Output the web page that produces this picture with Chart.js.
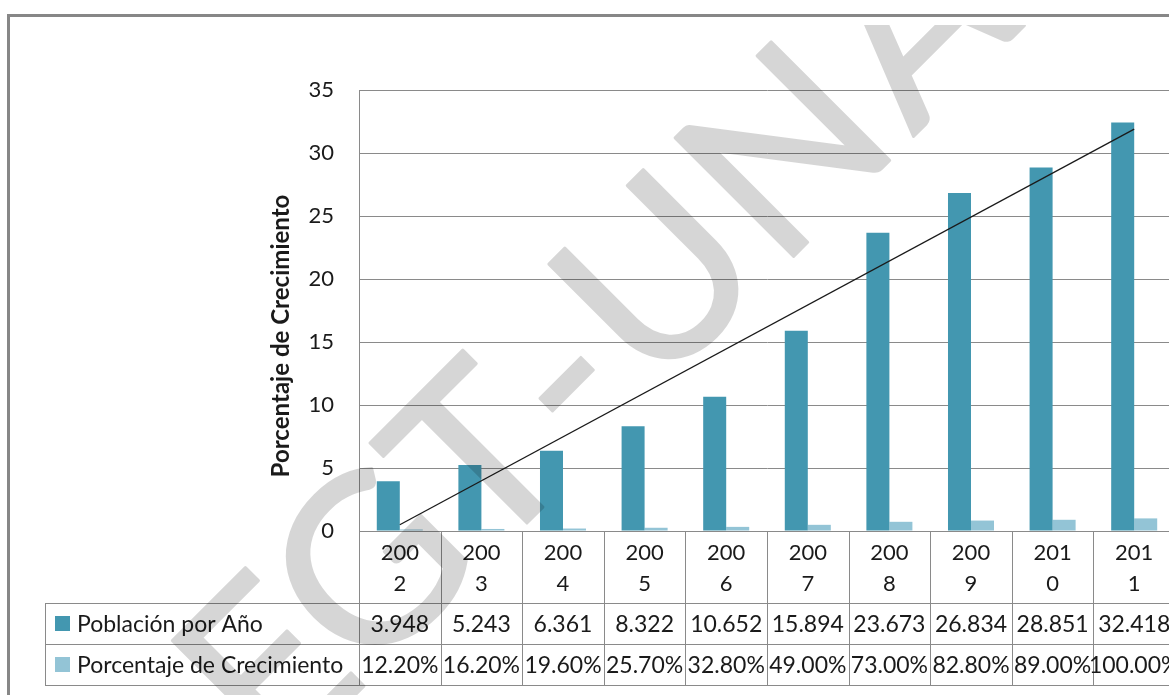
<!DOCTYPE html>
<html><head><meta charset="utf-8">
<script src="https://cdn.jsdelivr.net/npm/chart.js@4.4.1/dist/chart.umd.min.js"></script>
<style>html,body{margin:0;padding:0;overflow:hidden;background:#fff}canvas{display:block}</style>
</head><body>
<canvas id="c" width="1200" height="700"></canvas>
<script>
const categories = ['2002','2003','2004','2005','2006','2007','2008','2009','2010','2011'];
const poblacion = [3.948, 5.243, 6.361, 8.322, 10.652, 15.894, 23.673, 26.834, 28.851, 32.418];
const porcentaje = [0.122, 0.162, 0.196, 0.257, 0.328, 0.49, 0.73, 0.828, 0.89, 1.00];
const tendencia = [0.5, null, null, null, null, null, null, null, null, 31.9];
const yMin = 0, yMax = 35, yStep = 5;
const seriesNames = ['Población por Año', 'Porcentaje de Crecimiento'];
const axisTitle = 'Porcentaje de Crecimiento';
const watermarkText = 'EGT-UNA';

const DARK = '#4397B0', LIGHT = '#93C4D6', GRID = '#8a8a8a', TXT = '#1a1a1a';
const FONT = 'Lato, "Open Sans", sans-serif';

const tablePlugin = {
  id: 'tablePlugin',
  afterDraw(chart) {
    const ctx = chart.ctx, xs = chart.scales.x, ca = chart.chartArea;
    const half = (xs.getPixelForValue(1) - xs.getPixelForValue(0)) / 2;
    const r1 = 603, r2 = 644, r3 = 685, tLeft = 45;
    ctx.save();
    ctx.strokeStyle = GRID; ctx.lineWidth = 1;
    ctx.beginPath();
    for (let i = 0; i <= categories.length; i++) {
      const px = Math.round(xs.getPixelForValue(Math.min(i, categories.length - 1)) + (i < categories.length ? -half : half)) + 0.5;
      ctx.moveTo(px, ca.bottom); ctx.lineTo(px, r3);
    }
    [r1, r2, r3].forEach(r => { ctx.moveTo(tLeft, r + 0.5); ctx.lineTo(ca.right + 50, r + 0.5); });
    ctx.moveTo(tLeft + 0.5, r1); ctx.lineTo(tLeft + 0.5, r3);
    ctx.stroke();

    ctx.font = '23px ' + FONT;
    ctx.textBaseline = 'middle';
    const c1 = (r1 + r2) / 2 + 1, c2 = (r2 + r3) / 2 + 1;
    ctx.fillStyle = DARK; ctx.fillRect(55, 616, 15, 15);
    ctx.fillStyle = LIGHT; ctx.fillRect(55, 657, 15, 15);
    ctx.fillStyle = TXT; ctx.textAlign = 'left';
    ctx.fillText(seriesNames[0], 77, c1);
    ctx.fillText(seriesNames[1], 77, c2);
    ctx.textAlign = 'center';
    categories.forEach((c, i) => {
      const px = xs.getPixelForValue(i);
      ctx.fillText(poblacion[i].toFixed(3), px, c1);
      ctx.fillText((porcentaje[i] * 100).toFixed(2) + '%', px, c2);
    });

    // y axis title
    ctx.save();
    ctx.translate(281, 336);
    ctx.rotate(-Math.PI / 2);
    ctx.font = 'bold 20px ' + FONT;
    const w = ctx.measureText(axisTitle).width;
    const fs = 20 * 283 / w;
    ctx.font = 'bold ' + fs.toFixed(2) + 'px ' + FONT;
    ctx.textAlign = 'center'; ctx.textBaseline = 'middle';
    ctx.fillStyle = TXT;
    ctx.fillText(axisTitle, 0, 0);
    ctx.restore();

    // outer border
    ctx.strokeStyle = '#878787'; ctx.lineWidth = 3;
    ctx.strokeRect(8.5, 15.5, 1400, 1000);

    // watermark (drawn opaque offscreen, then composited translucent)
    const off = document.createElement('canvas');
    off.width = chart.width; off.height = chart.height;
    const o = off.getContext('2d');
    o.fillStyle = '#000'; o.strokeStyle = '#000'; o.lineWidth = 3; o.lineJoin = 'round';
    o.font = '234px ' + FONT;
    o.textAlign = 'center'; o.textBaseline = 'alphabetic';
    const offs = [-285, -139, 14, 129, 268, 448, 628];
    const base = 1050;
    watermarkText.split('').forEach((ch, i) => {
      const s = offs[i] * Math.SQRT2;
      const px = (base + s) / 2, py = (base - s) / 2;
      o.save(); o.translate(px, py); o.rotate(-Math.PI / 4);
      o.fillText(ch, 0, 0); o.strokeText(ch, 0, 0); o.restore();
    });
    ctx.save();
    ctx.beginPath(); ctx.rect(10, 25, 1400, 1000); ctx.clip();
    ctx.globalAlpha = 0.16;
    ctx.drawImage(off, 0, 0);
    ctx.restore();
    ctx.restore();
  }
};

new Chart(document.getElementById('c'), {
  data: {
    labels: categories,
    datasets: [
      { type: 'line', label: 'Tendencia', data: tendencia, borderColor: '#1a1a1a', borderWidth: 1.3,
        pointRadius: 0, spanGaps: true, fill: false, order: 0 },
      { type: 'bar', label: seriesNames[0], data: poblacion, backgroundColor: DARK,
        categoryPercentage: 0.564, barPercentage: 1, order: 1 },
      { type: 'bar', label: seriesNames[1], data: porcentaje, backgroundColor: LIGHT,
        categoryPercentage: 0.564, barPercentage: 1, order: 1 }
    ]
  },
  options: {
    responsive: false, animation: false, devicePixelRatio: 1,
    layout: { padding: { left: 0, top: 90, right: 25, bottom: 0 } },
    plugins: { legend: { display: false }, tooltip: { enabled: false } },
    scales: {
      x: {
        type: 'category', offset: true,
        grid: { display: false },
        border: { display: true, color: GRID },
        ticks: { color: TXT, font: { family: FONT, size: 22, lineHeight: 1.42 }, padding: -2,
          maxRotation: 0, autoSkip: false,
          callback: (v, i) => [categories[i].slice(0, 3), categories[i].slice(3)] },
        afterFit: s => { s.height = 169; }
      },
      y: {
        min: yMin, max: yMax,
        ticks: { stepSize: yStep, padding: 25, color: TXT, font: { family: FONT, size: 22 } },
        grid: { color: GRID, drawTicks: false },
        border: { display: true, color: GRID },
        afterFit: s => { s.width = 359; }
      }
    }
  },
  plugins: [tablePlugin]
});
</script>
</body></html>
